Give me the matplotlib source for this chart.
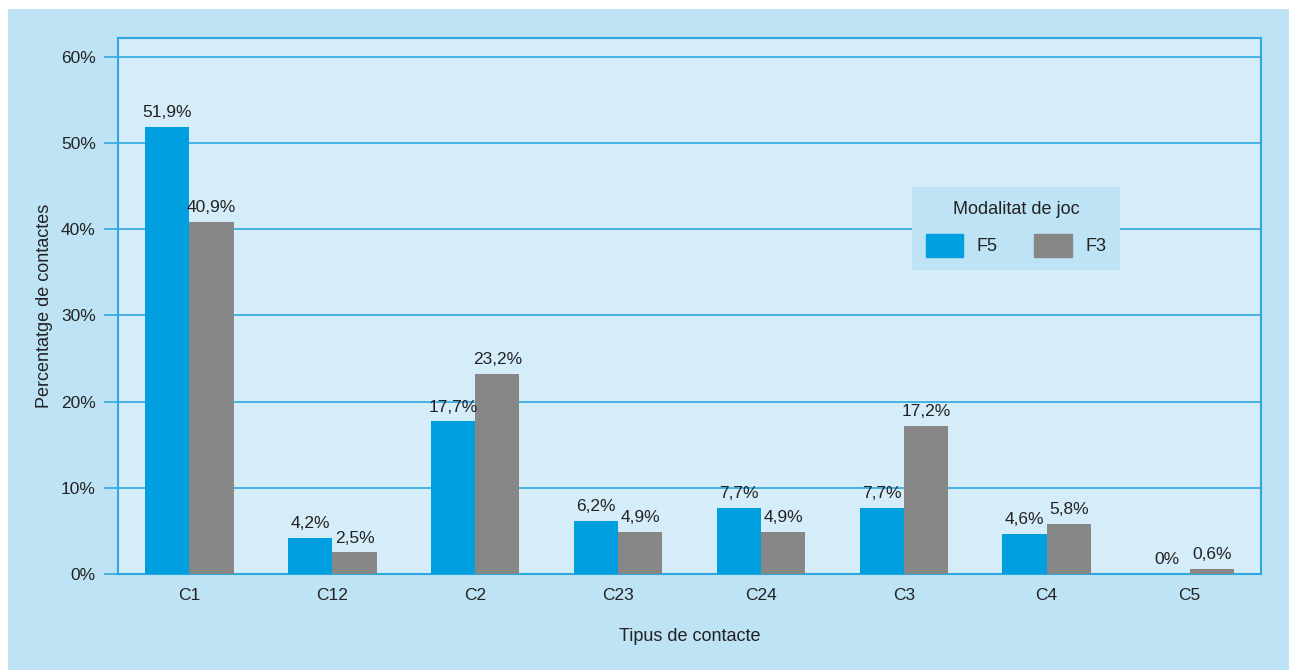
import numpy as np
import matplotlib.pyplot as plt
from matplotlib.patches import Rectangle, Patch

# ========== Дані ==========
categories = ['C1', 'C12', 'C2', 'C23', 'C24', 'C3', 'C4', 'C5']
f5 = [51.9, 4.2, 17.7, 6.2, 7.7, 7.7, 4.6, 0.0]
f3 = [40.9, 2.5, 23.2, 4.9, 4.9, 17.2, 5.8, 0.6]
series_names = ['F5', 'F3']

# ========== Стиль ==========
plt.rcParams['font.family'] = ['Liberation Sans', 'DejaVu Sans']
outer_bg = '#BEE3F5'
inner_bg = '#D5ECF9'
blue = '#009FDF'
grey = '#878787'
line_blue = '#2EA8E0'
txt = '#222222'

fig = plt.figure(figsize=(12.89, 6.70), dpi=100)
fig.patch.set_facecolor('white')
fig.patches.append(Rectangle((8 / 1289, 0), 1 - 8 / 1289, 1 - 9 / 670,
                             transform=fig.transFigure, facecolor=outer_bg,
                             edgecolor='none', zorder=-10))

ax = fig.add_axes([118 / 1289, 1 - 574 / 670, (1261 - 118) / 1289, (574 - 38) / 670])
ax.set_facecolor(inner_bg)

x = np.arange(len(categories))
width = 0.31
b1 = ax.bar(x - width / 2, f5, width, color=blue, label=series_names[0], zorder=3)
b2 = ax.bar(x + width / 2, f3, width, color=grey, label=series_names[1], zorder=3)

def fmt(v):
    s = f'{v:.1f}'.replace('.', ',')
    if s.endswith(',0'):
        s = s[:-2]
    return s + '%'

ax.bar_label(b1, labels=[fmt(v) for v in f5], padding=5, fontsize=12.5, color=txt)
ax.bar_label(b2, labels=[fmt(v) for v in f3], padding=5, fontsize=12.5, color=txt)

ax.set_xlim(-0.5, len(categories) - 0.5)
ax.set_ylim(0, 62.2)
ax.set_yticks(np.arange(0, 61, 10))
ax.set_yticklabels([f'{int(t)}%' for t in np.arange(0, 61, 10)], fontsize=12.5, color=txt)
ax.set_xticks(x)
ax.set_xticklabels(categories, fontsize=12.5, color=txt)
ax.tick_params(axis='x', length=0, pad=10)
ax.tick_params(axis='y', length=10, width=1.2, color=line_blue, pad=6)
ax.yaxis.grid(True, color=line_blue, linewidth=1.2, zorder=1)
ax.set_axisbelow(True)
for sp in ax.spines.values():
    sp.set_color(line_blue)
    sp.set_linewidth(1.5)

ax.set_ylabel('Percentatge de contactes', fontsize=13, labelpad=6, color=txt)
ax.set_xlabel('Tipus de contacte', fontsize=13, labelpad=18, color=txt)

handles = [Patch(color=blue), Patch(color=grey)]
leg = ax.legend(handles, series_names, title='Modalitat de joc', ncol=2,
                loc='upper left', bbox_to_anchor=((912 - 118) / 1143, 1 - (187 - 38) / 536),
                frameon=True, fancybox=False, fontsize=13, title_fontsize=13,
                handlelength=2.1, handleheight=1.55, columnspacing=2.0,
                borderpad=0.75, labelspacing=0.6, handletextpad=0.75,
                borderaxespad=0)
leg.get_frame().set_facecolor(outer_bg)
leg.get_frame().set_edgecolor('none')
leg.get_frame().set_alpha(1)
leg.get_title().set_color(txt)
leg._legend_box.sep = 12
for t in leg.get_texts():
    t.set_color(txt)

fig.savefig('out.png', dpi=100, facecolor=fig.get_facecolor())
